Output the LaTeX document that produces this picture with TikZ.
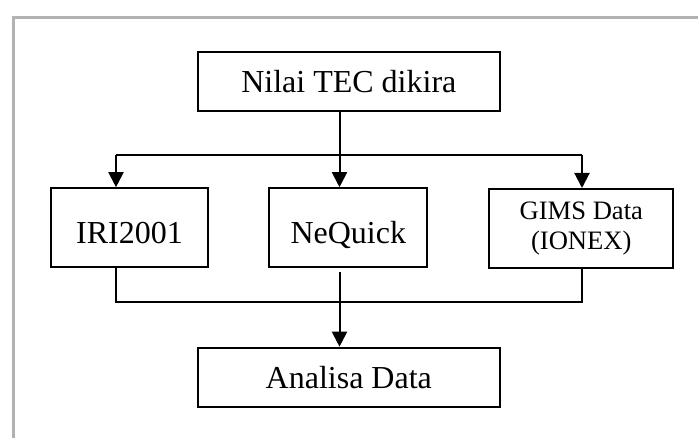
\documentclass[tikz,border=0pt]{standalone}
\usepackage{fontspec}
\setmainfont{Liberation Serif}
\usetikzlibrary{arrows.meta}
\begin{document}
\begin{tikzpicture}[x=0.5pt, y=-0.5pt,
    box/.style={draw, line width=1pt, inner sep=0pt, font=\fontsize{16}{19}\selectfont},
    midbox/.style={box, minimum height=39.5pt, text height=16pt, text depth=0pt},
    arr/.style={line width=1pt, -{Triangle[length=7.5pt, width=7.5pt]}},
    link/.style={line width=1pt}]
  \useasboundingbox (0,0) rectangle (698,438);
  % gray frame
  \draw[line width=1.5pt, black!30] (13.5,438) -- (13.5,18) -- (698,18);
  \node[box, minimum width=151pt, minimum height=29.5pt] (nilai) at (348.8,81.3) {Nilai TEC dikira};
  \node[midbox, minimum width=78.5pt] (iri) at (129.5,227.7) {IRI2001};
  \node[midbox, minimum width=79pt] (nequick) at (348.3,227.7) {NeQuick};
  \node[box, minimum width=92pt, minimum height=39.5pt, align=center,
        font=\fontsize{13.3}{15}\selectfont] (gims) at (581.3,228.5) {GIMS Data\\(IONEX)};
  \node[box, minimum width=151pt, minimum height=29.8pt] (analisa) at (348.8,377.5) {Analisa Data};
  \coordinate (spine) at (339.5,0);
  \coordinate (bl) at (116,155);
  \coordinate (br) at (582,155);
  \coordinate (jl) at (116,302);
  \coordinate (jr) at (582,302);
  \draw[arr] (nilai.south -| spine) -- (nequick.north -| spine);
  \draw[link] (bl) -- (br);
  \draw[arr] (bl) -- (bl |- iri.north);
  \draw[arr] (br) -- (br |- gims.north);
  \draw[link] (iri.south -| jl) -- (jl) -- (jr) -- (gims.south -| jr);
  \draw[arr] ([yshift=-2pt]nequick.south -| spine) -- (analisa.north -| spine);
\end{tikzpicture}
\end{document}
